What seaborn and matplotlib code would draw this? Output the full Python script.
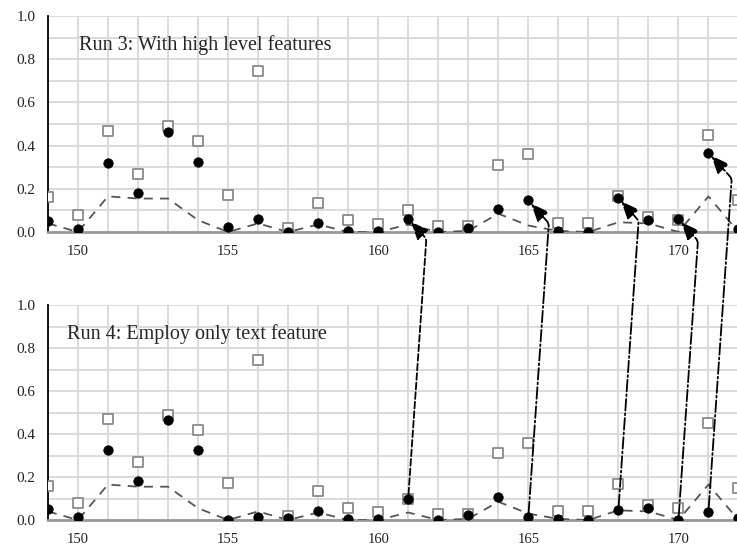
import matplotlib
matplotlib.use("Agg")
import matplotlib.pyplot as plt
import seaborn as sns
import numpy as np

# data
frames = list(range(149, 173))
squares = [0.16, 0.08, 0.47, 0.27, 0.49, 0.42, 0.17, 0.745, 0.017, 0.135, 0.057, 0.038,
           0.10, 0.026, 0.03, 0.31, 0.36, 0.04, 0.04, 0.168, 0.07, 0.057, 0.45, 0.15]
dots_run3 = [0.052, 0.012, 0.32, 0.18, 0.464, 0.325, 0.023, 0.062, 0.0, 0.042, 0.005, 0.005,
             0.062, 0.0, 0.02, 0.108, 0.146, 0.005, 0.0, 0.157, 0.055, 0.06, 0.368, 0.015]
dots_run4 = [0.053, 0.012, 0.324, 0.18, 0.464, 0.324, 0.0, 0.016, 0.008, 0.043, 0.005, 0.005,
             0.10, 0.0, 0.023, 0.108, 0.012, 0.005, 0.0, 0.046, 0.054, 0.0, 0.039, 0.01]
dashed = [0.04, 0.0, 0.165, 0.155, 0.155, 0.055, 0.0, 0.04, 0.0, 0.035, 0.0, 0.0,
          0.035, 0.0, 0.005, 0.085, 0.03, 0.005, 0.0, 0.045, 0.04, 0.0, 0.165, 0.0]
titles = ["Run 3: With high level features", "Run 4: Employ only text feature"]
arrow_frames = [161, 165, 168, 170, 171]
arrow_styles = ["--", "-.", "-.", "-.", "-."]

sns.set_style("white")
plt.rcParams['font.family'] = ['Liberation Serif', 'DejaVu Serif']

fig = plt.figure(figsize=(7.37, 5.44), dpi=100)
ax_top = fig.add_axes([0.065, 0.5735, 0.937, 0.397])
ax_bot = fig.add_axes([0.065, 0.0441, 0.937, 0.395])

for ax, dots, title, tx in [(ax_top, dots_run3, titles[0], 150.05),
                            (ax_bot, dots_run4, titles[1], 149.65)]:
    sns.lineplot(x=frames, y=dashed, ax=ax, color="#555555", lw=1.3,
                 linestyle=(0, (5, 4)), zorder=3)
    sns.scatterplot(x=frames, y=squares, ax=ax, marker="s", s=52, facecolor="white",
                    edgecolor="#8a8a8a", linewidth=1.3, zorder=4)
    sns.scatterplot(x=frames, y=dots, ax=ax, marker="o", s=46, color="black",
                    edgecolor="black", zorder=5)
    ax.set_xlim(149, 172)
    ax.set_ylim(0, 1.0)
    ax.set_xticks(range(150, 172, 5))
    ax.set_xticks(frames, minor=True)
    ax.set_yticks(np.arange(0, 1.01, 0.2))
    ax.set_yticks(np.arange(0, 1.01, 0.1), minor=True)
    ax.set_yticklabels([f"{v:.1f}" for v in np.arange(0, 1.01, 0.2)])
    ax.grid(which="both", color="#d8d8d8", lw=1.3)
    ax.set_axisbelow(True)
    for s in ["top", "right"]:
        ax.spines[s].set_visible(False)
    ax.spines["left"].set_color("black")
    ax.spines["left"].set_linewidth(1.3)
    ax.spines["bottom"].set_color("#999999")
    ax.spines["bottom"].set_linewidth(2)
    ax.tick_params(axis="x", which="major", direction="out", length=8, width=1.2,
                   color="black", labelsize=10.5, labelcolor="#222222", pad=1)
    ax.tick_params(axis="x", which="minor", direction="out", length=4, width=1,
                   color="#888888")
    ax.tick_params(axis="y", which="major", direction="out", length=6, width=1.2,
                   color="black", labelsize=11, labelcolor="#222222", pad=3)
    ax.tick_params(axis="y", which="minor", direction="out", length=3, width=1,
                   color="black")
    ax.set_xlabel("")
    ax.set_ylabel("")
    ax.text(tx, 0.865, title, fontsize=14.5, va="center", ha="left", zorder=6)

# arrows from run 4 points up to run 3 points
for f, ls in zip(arrow_frames, arrow_styles):
    i = frames.index(f)
    ax_bot.annotate("", xy=(f, dots_run3[i]), xycoords=ax_top.transData,
                    xytext=(f, dots_run4[i]), textcoords=ax_bot.transData,
                    annotation_clip=False, zorder=10,
                    arrowprops=dict(arrowstyle="-|>,head_length=0.6,head_width=0.25",
                                    mutation_scale=18, facecolor="black",
                                    edgecolor="black", lw=1.3,
                                    linestyle=ls, shrinkA=3, shrinkB=3,
                                    connectionstyle="angle,angleA=86,angleB=-48,rad=3"))

fig.savefig("out.png", dpi=100)
